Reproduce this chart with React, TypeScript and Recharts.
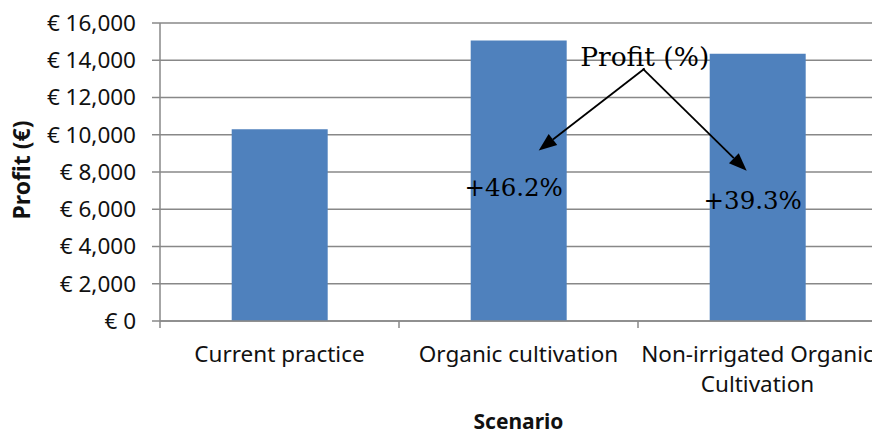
import React from 'react';
import { BarChart, Bar, XAxis, YAxis, CartesianGrid, LabelList } from 'recharts';

const scenarios = ['Current practice', 'Organic cultivation', 'Non-irrigated Organic Cultivation'];
const profit = [10300, 15060, 14350];
const yTicks = [0, 2000, 4000, 6000, 8000, 10000, 12000, 14000, 16000];
const yAxisTitle = 'Profit (€)';
const xAxisTitle = 'Scenario';
const annotationTitle = 'Profit (%)';

const data = scenarios.map((s, i) => ({ scenario: s, profit: profit[i] }));

const AXIS = '#888888';
const TXT = '#111111';
const SANS = 'Noto Sans';
const SERIF = 'DejaVu Serif';
const TICK_FS = 22.5;

const fmtEuro = (v: number) => '€ ' + v.toLocaleString('en-US');

let ctx: CanvasRenderingContext2D | null = null;
const measure = (s: string, fs: number) => {
  if (!ctx && typeof document !== 'undefined') {
    ctx = document.createElement('canvas').getContext('2d');
  }
  if (!ctx) return s.length * fs * 0.55;
  ctx.font = `${fs}px "${SANS}"`;
  return ctx.measureText(s).width;
};

const wrap = (s: string, maxW: number, fs: number) => {
  const words = s.split(' ');
  const lines: string[] = [];
  let cur = '';
  words.forEach((w) => {
    const t = cur ? cur + ' ' + w : w;
    if (cur && measure(t, fs) > maxW) {
      lines.push(cur);
      cur = w;
    } else {
      cur = t;
    }
  });
  if (cur) lines.push(cur);
  return lines;
};

const Arrow = ({ x1, y1, x2, y2 }: { x1: number; y1: number; x2: number; y2: number }) => {
  const dx = x2 - x1;
  const dy = y2 - y1;
  const len = Math.sqrt(dx * dx + dy * dy) || 1;
  const ux = dx / len;
  const uy = dy / len;
  const hl = 18;
  const hw = 7;
  const bx = x2 - ux * hl;
  const by = y2 - uy * hl;
  const px = -uy;
  const py = ux;
  return (
    <g>
      <line x1={x1} y1={y1} x2={bx} y2={by} stroke="#000" strokeWidth={1.8} />
      <polygon
        points={`${x2},${y2} ${bx + px * hw},${by + py * hw} ${bx - px * hw},${by - py * hw}`}
        fill="#000"
      />
    </g>
  );
};

const Annot = (props: any) => {
  const vb = props.viewBox || {};
  const x = vb.x ?? props.x;
  const y = vb.y ?? props.y;
  const w = vb.width ?? props.width;
  let index = props.index;
  if (index == null) index = profit.indexOf(Number(props.value));
  if (!index || x == null) return null;
  const cx = x + w / 2;
  const pct = (profit[index] / profit[0] - 1) * 100;
  const label = `+${pct.toFixed(1)}%`;
  const startX = index === 1 ? x + w + 78 : x - 67;
  const startY = index === 1 ? y + 28 : y + 15;
  const endX = index === 1 ? cx + 20 : cx - 11;
  const endY = index === 1 ? y + 110 : y + 117;
  return (
    <g>
      {index === 1 && (
        <text x={startX} y={y + 25} textAnchor="middle" fontFamily={SERIF} fontSize={26.5} fill="#000">
          {annotationTitle}
        </text>
      )}
      <Arrow x1={startX} y1={startY} x2={endX} y2={endY} />
      <text x={cx - 5} y={y + 155} textAnchor="middle" fontFamily={SERIF} fontSize={24.5} fill="#000">
        {label}
      </text>
    </g>
  );
};

const XTick = (props: any) => {
  const { x, y, payload } = props;
  const half = payload && payload.offset ? payload.offset : 119.5;
  const axisY = y - 9;
  const lines = wrap(String(payload.value), 2 * half - 4, TICK_FS);
  return (
    <g>
      <line x1={x - half} x2={x - half} y1={axisY} y2={axisY + 7} stroke={AXIS} strokeWidth={1.5} />
      <text x={x} y={axisY + 41} textAnchor="middle" fontSize={TICK_FS} fontFamily={SANS} fill={TXT}>
        {lines.map((l, i) => (
          <tspan key={i} x={x} dy={i === 0 ? 0 : 30}>
            {l}
          </tspan>
        ))}
      </text>
    </g>
  );
};

export default function App() {
  return (
    <div
      style={{
        position: 'fixed',
        left: 0,
        top: 0,
        width: 872,
        height: 435,
        overflow: 'hidden',
        background: '#fff',
      }}
    >
      <BarChart
        width={880}
        height={435}
        data={data}
        margin={{ top: 23, right: 3, bottom: 0, left: 0 }}
        barCategoryGap="30%"
      >
        <CartesianGrid vertical={false} stroke={AXIS} strokeWidth={1.5} />
        <XAxis
          dataKey="scenario"
          interval={0}
          height={114}
          tickLine={false}
          tickSize={7}
          tickMargin={2}
          axisLine={{ stroke: AXIS, strokeWidth: 1.5 }}
          tick={<XTick />}
          label={(p: any) => {
            const vb = p.viewBox || {};
            return (
              <text
                x={vb.x + vb.width / 2}
                y={vb.y + 108}
                textAnchor="middle"
                fontFamily={SANS}
                fontWeight="bold"
                fontSize={21}
                fill={TXT}
              >
                {xAxisTitle}
              </text>
            );
          }}
        />
        <YAxis
          width={160}
          domain={[0, 16000]}
          ticks={yTicks}
          interval={0}
          tickSize={8}
          tickMargin={16}
          tickLine={{ stroke: AXIS, strokeWidth: 1.5 }}
          axisLine={{ stroke: AXIS, strokeWidth: 1.5 }}
          tickFormatter={fmtEuro}
          tick={{ fill: TXT, fontSize: TICK_FS, fontFamily: SANS }}
          label={(p: any) => {
            const vb = p.viewBox || {};
            const cx = vb.x + 21;
            const cy = vb.y + vb.height / 2 - 2;
            return (
              <text
                x={cx}
                y={cy}
                transform={`rotate(-90 ${cx} ${cy})`}
                textAnchor="middle"
                dominantBaseline="central"
                fontFamily={SANS}
                fontWeight="bold"
                fontSize={23}
                fill={TXT}
              >
                {yAxisTitle}
              </text>
            );
          }}
        />
        <Bar dataKey="profit" fill="#4F81BD" isAnimationActive={false}>
          <LabelList dataKey="profit" content={Annot} />
        </Bar>
      </BarChart>
    </div>
  );
}
